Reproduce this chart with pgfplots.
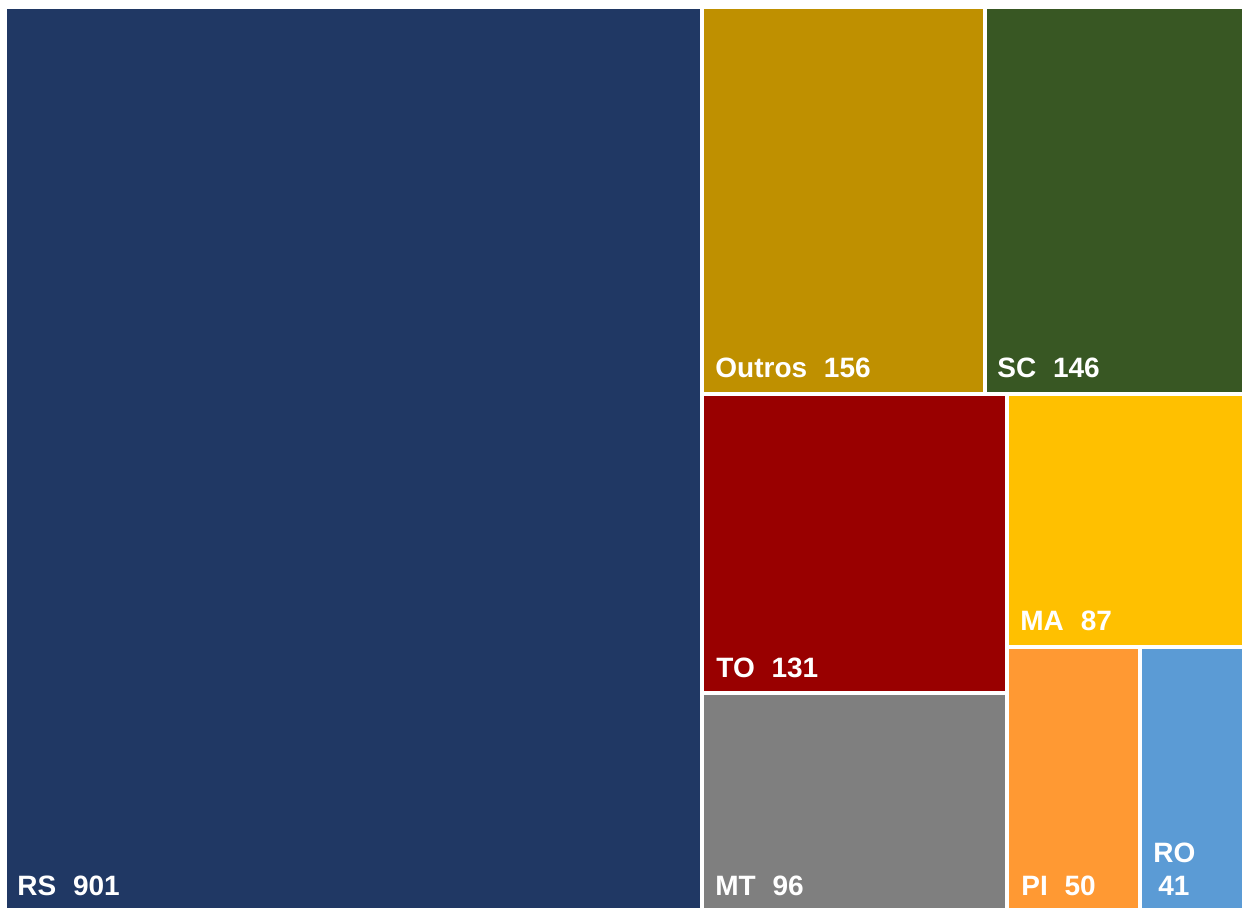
\documentclass[border=0pt]{standalone}
\usepackage{pgfplots}
\pgfplotsset{compat=1.18}
\usepackage{fontspec}
\setmainfont{Liberation Sans}
\definecolor{cRS}{HTML}{203864}
\definecolor{cOU}{HTML}{BF9000}
\definecolor{cSC}{HTML}{385723}
\definecolor{cTO}{HTML}{990000}
\definecolor{cMT}{HTML}{7F7F7F}
\definecolor{cMA}{HTML}{FFC000}
\definecolor{cPI}{HTML}{FF9933}
\definecolor{cRO}{HTML}{5B9BD5}
\tikzset{lbl/.style={font=\fontsize{14}{16}\selectfont\bfseries, text=white, anchor=base west, inner sep=0pt}}
\begin{document}
\begin{tikzpicture}
\begin{axis}[
  scale only axis, width=621pt, height=454pt,
  xmin=0, xmax=1242, ymin=0, ymax=908, y dir=reverse,
  hide axis, clip=false,
]
\addplot[draw=none, mark=none, forget plot] coordinates {(0,0) (1242,908)};
\addplot[fill=cRS, draw=none] coordinates {(7,9) (700,9) (700,908) (7,908)} -- cycle;
\addplot[fill=cOU, draw=none] coordinates {(704,9) (983,9) (983,392) (704,392)} -- cycle;
\addplot[fill=cSC, draw=none] coordinates {(987,9) (1242,9) (1242,392) (987,392)} -- cycle;
\addplot[fill=cTO, draw=none] coordinates {(704,396) (1005,396) (1005,691) (704,691)} -- cycle;
\addplot[fill=cMT, draw=none] coordinates {(704,695) (1005,695) (1005,908) (704,908)} -- cycle;
\addplot[fill=cMA, draw=none] coordinates {(1009,396) (1242,396) (1242,645) (1009,645)} -- cycle;
\addplot[fill=cPI, draw=none] coordinates {(1009,649) (1138,649) (1138,908) (1009,908)} -- cycle;
\addplot[fill=cRO, draw=none] coordinates {(1142,649) (1242,649) (1242,908) (1142,908)} -- cycle;
\node[lbl] at (axis cs:17,895) {RS\hspace{0.6em}901};
\node[lbl] at (axis cs:715,378) {Outros\hspace{0.6em}156};
\node[lbl] at (axis cs:997,378) {SC\hspace{0.6em}146};
\node[lbl] at (axis cs:716,677) {TO\hspace{0.6em}131};
\node[lbl] at (axis cs:1020,631) {MA\hspace{0.6em}87};
\node[lbl] at (axis cs:715,895) {MT\hspace{0.6em}96};
\node[lbl] at (axis cs:1021,895) {PI\hspace{0.6em}50};
\node[lbl] at (axis cs:1153,862) {RO};
\node[lbl] at (axis cs:1158,895) {41};
\end{axis}
\end{tikzpicture}
\end{document}
